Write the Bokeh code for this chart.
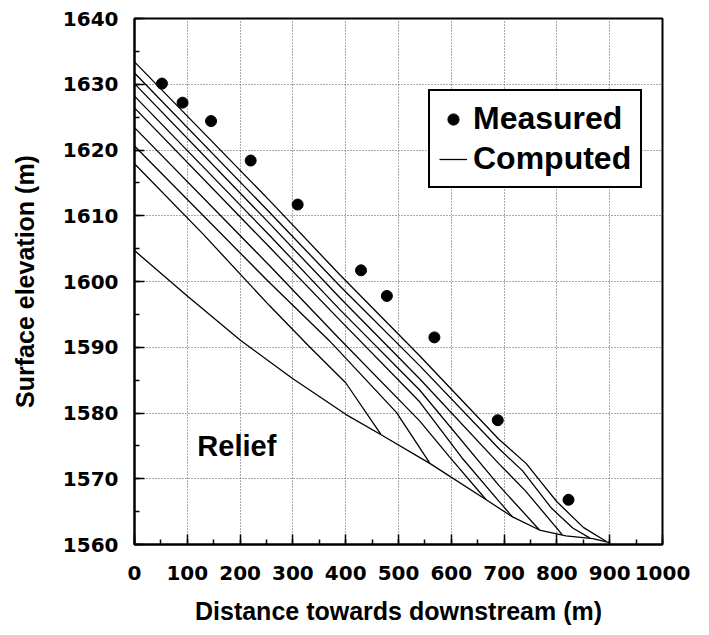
from bokeh.plotting import figure
from bokeh.models import Range1d, SingleIntervalTicker, Legend, LegendItem
from bokeh.core.properties import value
from bokeh.embed import file_html
from bokeh.resources import INLINE

# ---- data ----
measured_x = [52, 91, 145, 220, 309, 429, 478, 568, 688, 822]
measured_y = [1630.1, 1627.2, 1624.4, 1618.4, 1611.7, 1601.7, 1597.8, 1591.5, 1578.9, 1566.8]

relief_x = [0, 100, 200, 300, 400, 467, 560, 666, 716, 767, 817, 868, 900]
relief_y = [1604.7, 1597.8, 1591.1, 1585.2, 1579.8, 1576.7, 1572.3, 1566.8, 1564.2, 1562.2, 1561.3, 1560.9, 1560.3]

c1_x = [0, 130, 256, 330, 400, 467]
c1_y = [1617.9, 1607.2, 1596.3, 1590.2, 1584.6, 1576.7]
c2_x = [0, 256, 369, 496, 559]
c2_y = [1620.6, 1599.8, 1591.0, 1580.1, 1572.4]
c3_x = [0, 256, 388, 540, 597, 666]
c3_y = [1623.4, 1602.4, 1591.3, 1578.8, 1573.3, 1566.8]
c4_x = [0, 256, 388, 540, 620, 690, 716]
c4_y = [1626.4, 1605.2, 1594.2, 1581.7, 1573.2, 1566.6, 1564.2]
c5_x = [0, 256, 388, 540, 690, 767]
c5_y = [1628.2, 1607.0, 1595.8, 1583.5, 1569.0, 1562.2]
c6_x = [0, 256, 388, 540, 690, 740, 810]
c6_y = [1630.1, 1608.8, 1597.6, 1585.2, 1572.3, 1568.2, 1561.5]
c7_x = [0, 256, 388, 540, 690, 735, 790, 830, 862]
c7_y = [1631.7, 1610.5, 1599.4, 1587.2, 1574.6, 1571.2, 1565.5, 1562.5, 1561.0]
c8_x = [0, 256, 388, 540, 690, 742, 770, 800, 850, 893]
c8_y = [1633.4, 1612.3, 1601.1, 1588.7, 1576.0, 1572.3, 1569.5, 1566.5, 1562.6, 1560.5]

computed_x = [c1_x, c2_x, c3_x, c4_x, c5_x, c6_x, c7_x, c8_x]
computed_y = [c1_y, c2_y, c3_y, c4_y, c5_y, c6_y, c7_y, c8_y]

legend_labels = ["Measured", "Computed"]
relief_label = ["Relief"]
relief_label_x = [119]
relief_label_y = [1575.0]

x_label = "Distance towards downstream (m)"
y_label = "Surface elevation (m)"

# ---- figure ----
p = figure(width=700, height=630, output_backend="svg", toolbar_location=None,
           x_range=Range1d(0, 1000), y_range=Range1d(1560, 1640),
           min_border_left=134, min_border_right=38, min_border_top=18, min_border_bottom=86)
p.background_fill_color = "white"
p.border_fill_color = "white"
p.outline_line_color = "black"
p.outline_line_width = 2
p.outline_line_alpha = 1

p.xaxis.ticker = SingleIntervalTicker(interval=100, num_minor_ticks=2)
p.yaxis.ticker = SingleIntervalTicker(interval=10, num_minor_ticks=2)

for ax in (p.xaxis, p.yaxis):
    ax.axis_line_width = 2
    ax.axis_line_color = "black"
    ax.major_tick_in = 10
    ax.major_tick_out = 0
    ax.minor_tick_in = 5
    ax.minor_tick_out = 0
    ax.major_tick_line_width = 1.5
    ax.minor_tick_line_width = 1.5
    ax.major_tick_line_color = "black"
    ax.minor_tick_line_color = "black"
    ax.major_label_text_font = "DejaVu Sans"
    ax.major_label_text_font_style = "bold"
    ax.major_label_text_font_size = "20px"
    ax.major_label_text_color = "black"
    ax.axis_label_text_font = "Liberation Sans"
    ax.axis_label_text_font_style = "bold"
    ax.axis_label_text_color = "black"
    ax.axis_label_text_font_size = "25px"

p.xaxis.axis_label = x_label
p.yaxis.axis_label = y_label
p.xaxis.major_label_standoff = 21
p.yaxis.major_label_standoff = 16
p.xaxis.axis_label_standoff = 14
p.yaxis.axis_label_standoff = 21

for g in (p.xgrid, p.ygrid):
    g.grid_line_color = "#555555"
    g.grid_line_dash = "1 2"
    g.grid_line_width = 1
    g.grid_line_alpha = 1

# relief
p.line(relief_x, relief_y, line_color="black", line_width=1.3)

# computed surfaces
comp_renderers = []
for xs, ys in zip(computed_x, computed_y):
    r = p.line(xs, ys, line_color="black", line_width=1.3)
    comp_renderers.append(r)

# measured
meas = p.scatter(measured_x, measured_y, size=11, marker="circle",
                 fill_color="black", line_color="black")

p.text(x=relief_label_x, y=relief_label_y, text=relief_label,
       text_font=value("Liberation Sans"), text_font_style="bold",
       text_font_size="29px", text_baseline="alphabetic", text_align="left",
       text_color="black")

legend = Legend(items=[LegendItem(label=legend_labels[0], renderers=[meas]),
                       LegendItem(label=legend_labels[1], renderers=[comp_renderers[-1]])],
                location=(294, 356))
legend.border_line_color = "black"
legend.border_line_width = 2
legend.border_line_alpha = 1
legend.background_fill_color = "white"
legend.background_fill_alpha = 1
legend.padding = 9
legend.spacing = 3
legend.margin = 0
legend.label_standoff = 6
legend.glyph_width = 28
legend.glyph_height = 28
legend.label_text_font = "Liberation Sans"
legend.label_text_font_style = "bold"
legend.label_text_font_size = "32px"
legend.label_text_color = "black"
p.add_layout(legend)

open("out.html", "w").write(file_html(p, INLINE))
